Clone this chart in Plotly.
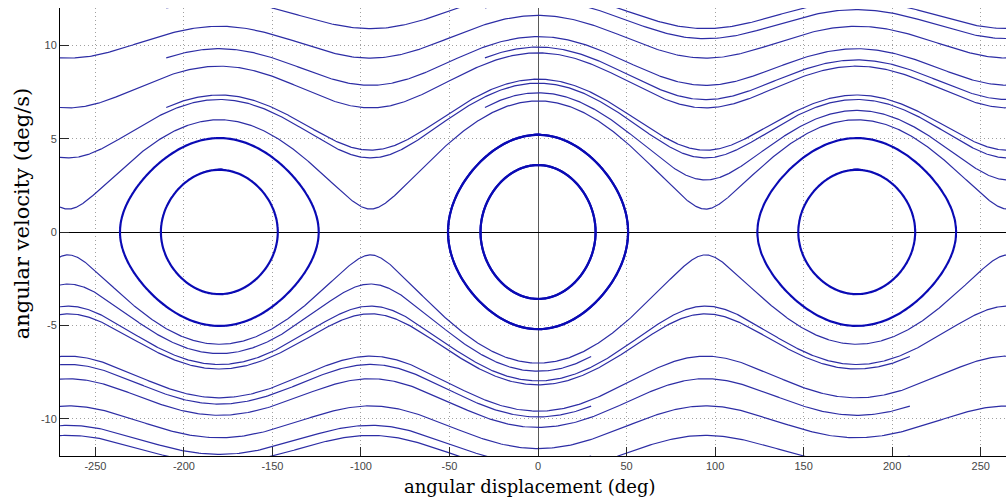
import numpy as np
import plotly.graph_objects as go

# Initial conditions of each simulated run:
# displacement (deg) and angular velocity (deg/s) at t = 0
start_displacement = [-270, -270, -270, -270,
                      -210, -210, -210, -210, -210,
                      -30, -30, -30, -30, -30,
                      270, 270, 270, 270,
                      210, 210, 210, 210, 210,
                      30, 30, 30, 30, 30]
start_velocity = [1.33, 4.0, 6.67, 9.33,
                  1.33, 4.0, 6.67, 9.33, 12.0,
                  1.33, 4.0, 6.67, 9.33, 12.0,
                  -1.33, -4.0, -6.67, -9.33,
                  -1.33, -4.0, -6.67, -9.33, -12.0,
                  -1.33, -4.0, -6.67, -9.33, -12.0]

# Restoring-torque coefficients of the model, in (deg/s)^2
k_double = 41.0   # sin(2*theta) term
k_single = 6.6    # sin(theta) term

x_ticks = [-250, -200, -150, -100, -50, 0, 50, 100, 150, 200, 250]
y_ticks = [-10, -5, 0, 5, 10]

X_RANGE = [-270, 264.3]
Y_RANGE = [-12, 12]


def acceleration(theta_deg):
    r = np.radians(theta_deg)
    return -(np.pi / 360.0) * (k_double * np.sin(2 * r) + k_single * np.sin(r))


def potential(theta_deg):
    r = np.radians(theta_deg)
    return k_double * np.sin(r) ** 2 + k_single * (1 - np.cos(r))


# integrate all runs together with RK4
dt = 0.05
n_steps = 8000
th = np.array(start_displacement, dtype=float)
v = np.array(start_velocity, dtype=float)
TH = np.empty((n_steps + 1, th.size))
VV = np.empty((n_steps + 1, th.size))
TH[0], VV[0] = th, v
for i in range(n_steps):
    k1t, k1v = v, acceleration(th)
    k2t, k2v = v + 0.5 * dt * k1v, acceleration(th + 0.5 * dt * k1t)
    k3t, k3v = v + 0.5 * dt * k2v, acceleration(th + 0.5 * dt * k2t)
    k4t, k4v = v + dt * k3v, acceleration(th + dt * k3t)
    th = th + dt / 6.0 * (k1t + 2 * k2t + 2 * k3t + k4t)
    v = v + dt / 6.0 * (k1v + 2 * k2v + 2 * k3v + k4v)
    TH[i + 1], VV[i + 1] = th, v

saddle_energy = potential(np.linspace(0, 180, 3601)).max()

fig = go.Figure()
for j in range(th.size):
    t_run, v_run = TH[:, j], VV[:, j]
    out = np.nonzero(np.abs(t_run) > 276)[0]
    if out.size:
        stop = out[0] + 1
        t_run, v_run = t_run[:stop], v_run[:stop]
    t_run, v_run = t_run[::2], v_run[::2]
    energy = start_velocity[j] ** 2 + potential(start_displacement[j])
    closed = energy < saddle_energy
    fig.add_trace(go.Scatter(
        x=t_run, y=v_run, mode="lines",
        line=dict(color="rgb(10,10,180)" if closed else "rgb(45,45,165)",
                  width=2.0 if closed else 1.2),
        hoverinfo="skip", showlegend=False,
    ))

grid = dict(showgrid=True, gridcolor="rgb(160,160,160)", gridwidth=1,
            griddash="1px,3px")
tickfont = dict(family="Liberation Sans, Arial, sans-serif", size=11,
                color="rgb(70,70,70)")

fig.update_xaxes(range=X_RANGE, tickvals=x_ticks,
                 ticktext=[str(t) for t in x_ticks],
                 ticks="inside", ticklen=9, tickcolor="rgb(40,40,40)",
                 showline=True, linecolor="black", linewidth=1,
                 zeroline=True, zerolinecolor="rgb(90,90,90)", zerolinewidth=1,
                 tickfont=tickfont, **grid)
fig.update_yaxes(range=Y_RANGE, tickvals=y_ticks,
                 ticktext=[str(t) for t in y_ticks],
                 ticks="inside", ticklen=9, tickcolor="rgb(40,40,40)",
                 showline=True, linecolor="black", linewidth=1,
                 zeroline=True, zerolinecolor="black", zerolinewidth=1,
                 tickfont=tickfont, **grid)

x_title_font = dict(family="DejaVu Serif, serif", size=18, color="black")
y_title_font = dict(family="DejaVu Serif, serif", size=21, color="black")
fig.update_layout(
    width=1006, height=502, autosize=False,
    margin=dict(l=60, r=0, t=8, b=46),
    paper_bgcolor="white", plot_bgcolor="white",
    annotations=[
        dict(text="angular displacement (deg)", xref="paper", yref="paper",
             x=0.497, y=-0.069, xanchor="center", yanchor="middle",
             showarrow=False, font=x_title_font),
        dict(text="angular velocity (deg/s)", xref="paper", yref="paper",
             x=-0.040, y=0.542, xanchor="center", yanchor="middle",
             textangle=-90, showarrow=False, font=y_title_font),
    ],
)

fig.write_html("out.html")
